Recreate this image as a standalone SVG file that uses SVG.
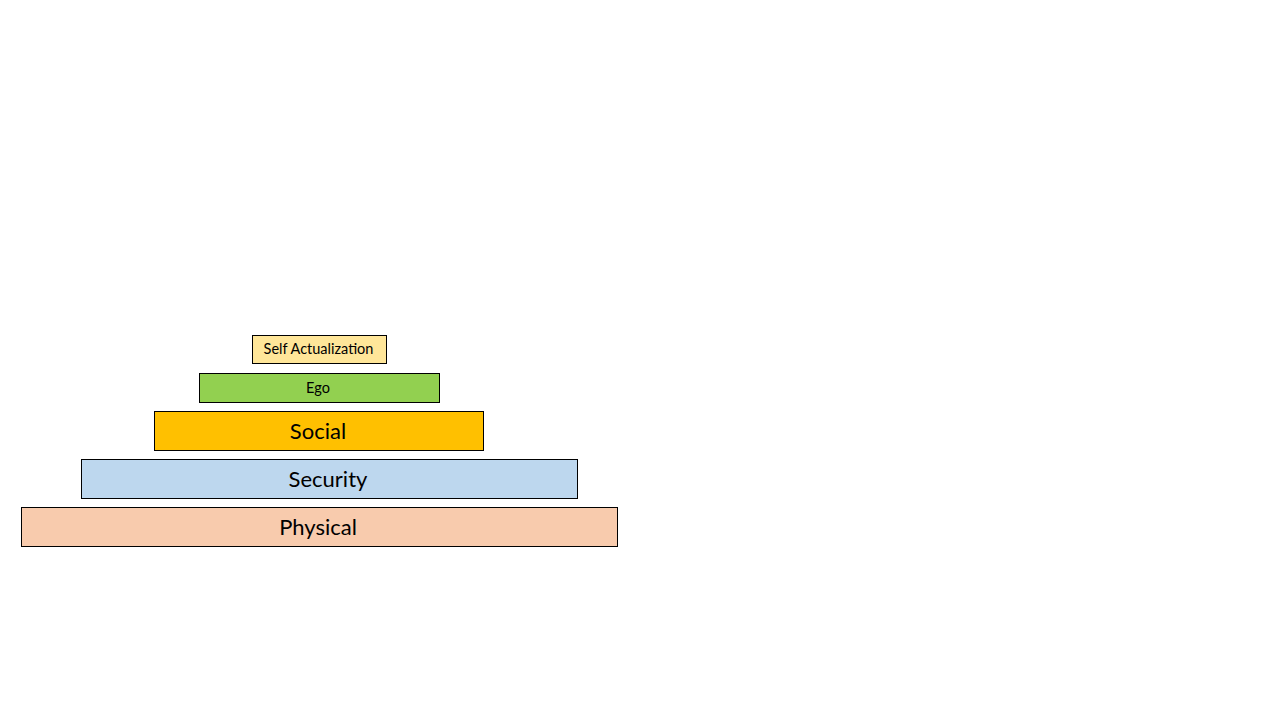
<svg xmlns="http://www.w3.org/2000/svg" width="1280" height="720" viewBox="0 0 1280 720">
<style>
.box{stroke:#000;stroke-width:1}
.t{font-family:"Lato","Liberation Sans","Noto Sans",sans-serif;fill:#000;text-anchor:middle;dominant-baseline:central}
.s{font-size:14.5px}
.l{font-size:22px}
</style>
<rect width="1280" height="720" fill="#fff"/>
<g id="self-actualization"><rect class="box" x="252.5" y="335.5" width="134" height="28" fill="#FFE699"/><text class="t s" x="318.5" y="348.5">Self Actualization</text></g>
<g id="ego"><rect class="box" x="199.5" y="373.5" width="240" height="29" fill="#92D050"/><text class="t s" x="318" y="387.5">Ego</text></g>
<g id="social"><rect class="box" x="154.5" y="411.5" width="329" height="39" fill="#FFC000"/><text class="t l" x="318" y="430">Social</text></g>
<g id="security"><rect class="box" x="81.5" y="459.5" width="496" height="39" fill="#BDD7EE"/><text class="t l" x="328" y="478">Security</text></g>
<g id="physical"><rect class="box" x="21.5" y="507.5" width="596" height="39" fill="#F8CBAD"/><text class="t l" x="318" y="526">Physical</text></g>
<g id="connectors"/>
</svg>
